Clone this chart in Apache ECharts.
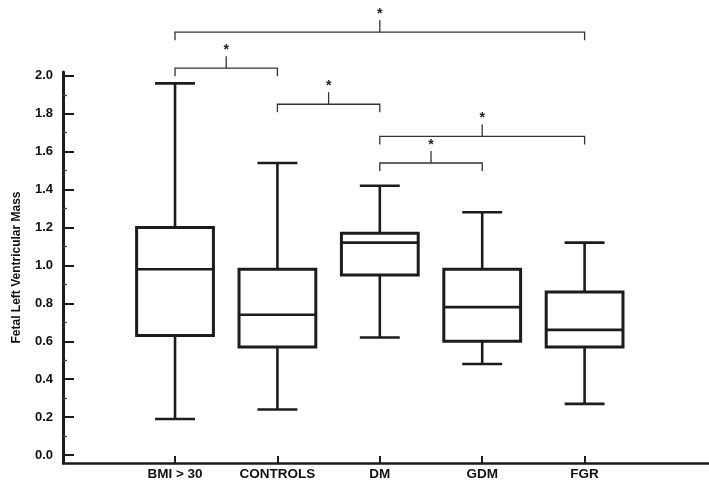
<!DOCTYPE html>
<html>
<head>
<meta charset="UTF-8">
<title>Fetal Left Ventricular Mass</title>
<style>
  * { margin: 0; padding: 0; }
  body { background: #fff; }
  #charts { width: 709px; height: 486px; }
</style>
</head>
<body>
<div id="charts"></div>
<script src="https://cdn.jsdelivr.net/npm/echarts@6/dist/echarts.min.js"></script>
<script>
  // groups on the x axis
  var groups = ['BMI > 30', 'CONTROLS', 'DM', 'GDM', 'FGR'];
  // box plot values
  var whiskerLow = [0.19, 0.24, 0.62, 0.48, 0.27];
  var q1 = [0.63, 0.57, 0.95, 0.60, 0.57];
  var median = [0.98, 0.74, 1.12, 0.78, 0.66];
  var q3 = [1.20, 0.98, 1.17, 0.98, 0.86];
  var whiskerHigh = [1.96, 1.54, 1.42, 1.28, 1.12];
  // y axis ticks
  var yTicks = [0, 0.2, 0.4, 0.6, 0.8, 1.0, 1.2, 1.4, 1.6, 1.8, 2.0];
  var yMinorTicks = [0.1, 0.3, 0.5, 0.7, 0.9, 1.1, 1.3, 1.5, 1.7, 1.9];
  // significance brackets (group index from / to, height in y units)
  var bracketFrom = [0, 0, 1, 2, 2];
  var bracketTo = [4, 1, 2, 4, 3];
  var bracketLevel = [2.23, 2.04, 1.85, 1.68, 1.54];
  var bracketMark = ['*', '*', '*', '*', '*'];

  var ink = '#1c1c1c';
  var mycharts = echarts.init(document.getElementById('charts'));

  var boxData = groups.map(function (g, i) {
    return [i, whiskerLow[i], q1[i], median[i], q3[i], whiskerHigh[i]];
  });
  var bracketData = bracketFrom.map(function (f, i) {
    return [f, bracketTo[i], bracketLevel[i]];
  });

  // one box + whiskers per group
  function renderBox(params, api) {
    var i = api.value(0);
    var lo = api.coord([i, api.value(1)]);
    var b = api.coord([i, api.value(2)]);
    var m = api.coord([i, api.value(3)]);
    var t = api.coord([i, api.value(4)]);
    var hi = api.coord([i, api.value(5)]);
    var band = api.size([1, 0])[0];
    var bw = band * 0.75, cw = band * 0.39;
    var x = lo[0];
    var ls = { stroke: ink, lineWidth: 2.6 };
    return {
      type: 'group',
      children: [
        { type: 'line', shape: { x1: x, y1: t[1], x2: x, y2: hi[1] }, style: ls },
        { type: 'line', shape: { x1: x, y1: b[1], x2: x, y2: lo[1] }, style: ls },
        { type: 'line', shape: { x1: x - cw / 2, y1: hi[1], x2: x + cw / 2, y2: hi[1] }, style: ls },
        { type: 'line', shape: { x1: x - cw / 2, y1: lo[1], x2: x + cw / 2, y2: lo[1] }, style: ls },
        { type: 'rect', shape: { x: x - bw / 2, y: t[1], width: bw, height: b[1] - t[1] },
          style: { fill: '#fff', stroke: ink, lineWidth: 3 } },
        { type: 'line', shape: { x1: x - bw / 2, y1: m[1], x2: x + bw / 2, y2: m[1] }, style: ls }
      ]
    };
  }

  // brackets with the star above
  function renderBracket(params, api) {
    var a = api.coord([api.value(0), api.value(2)]);
    var b = api.coord([api.value(1), api.value(2)]);
    var cx = (a[0] + b[0]) / 2;
    var y = a[1];
    var st = { stroke: '#333', lineWidth: 1.3, fill: null };
    return {
      type: 'group',
      children: [
        { type: 'polyline', shape: { points: [[a[0], y + 8], [a[0], y], [b[0], y], [b[0], y + 8]] }, style: st },
        { type: 'line', shape: { x1: cx, y1: y, x2: cx, y2: y - 12 }, style: st },
        { type: 'text', x: cx, y: y - 18,
          style: { text: bracketMark[params.dataIndex], fill: '#222', font: 'bold 14px "Liberation Sans", Arial',
            align: 'center', verticalAlign: 'middle' } }
      ]
    };
  }

  var option = {
    animation: false,
    backgroundColor: '#fff',
    grid: { left: 63, right: 0, top: 72, bottom: 23 },
    xAxis: {
      type: 'value',
      min: -1.094,
      max: 5.215,
      splitLine: { show: false },
      axisLine: { show: true, onZero: false, lineStyle: { color: ink, width: 2.5 } },
      axisTick: { show: true, customValues: [0, 1, 2, 3, 4], inside: true, length: 7,
        lineStyle: { color: ink, width: 2 } },
      axisLabel: {
        customValues: [0, 1, 2, 3, 4],
        formatter: function (v) { return groups[v]; },
        margin: 4, color: '#111', fontWeight: 'bold', fontSize: 13.5,
        fontFamily: '"Liberation Sans", Arial'
      }
    },
    yAxis: [{
      type: 'value',
      min: -0.042,
      max: 2.02,
      name: 'Fetal Left Ventricular Mass',
      nameLocation: 'middle',
      nameGap: 40,
      nameTextStyle: { color: '#111', fontWeight: 'bold', fontSize: 12, fontFamily: '"Liberation Sans", Arial' },
      splitLine: { show: false },
      axisLine: { show: true, onZero: false, lineStyle: { color: ink, width: 3 } },
      axisTick: { show: true, customValues: yTicks, inside: true, length: 11,
        lineStyle: { color: ink, width: 2 } },
      axisLabel: {
        customValues: yTicks,
        formatter: function (v) { return v.toFixed(1); },
        margin: 10, color: '#111', fontWeight: 'bold', fontSize: 13,
        fontFamily: '"Liberation Sans", Arial'
      }
    }, {
      // minor ticks only
      type: 'value',
      min: -0.042,
      max: 2.02,
      position: 'left',
      splitLine: { show: false },
      axisLine: { show: false, onZero: false },
      axisLabel: { show: false },
      axisTick: { show: true, customValues: yMinorTicks, inside: true, length: 4,
        lineStyle: { color: '#444', width: 1.3 } }
    }],
    series: [{
      type: 'custom',
      renderItem: renderBox,
      data: boxData,
      encode: { x: 0, y: [1, 2, 3, 4, 5] },
      z: 3
    }, {
      type: 'custom',
      renderItem: renderBracket,
      data: bracketData,
      encode: { x: [0, 1], y: 2 },
      clip: false,
      z: 4
    }]
  };
  mycharts.setOption(option);
</script>
</body>
</html>
